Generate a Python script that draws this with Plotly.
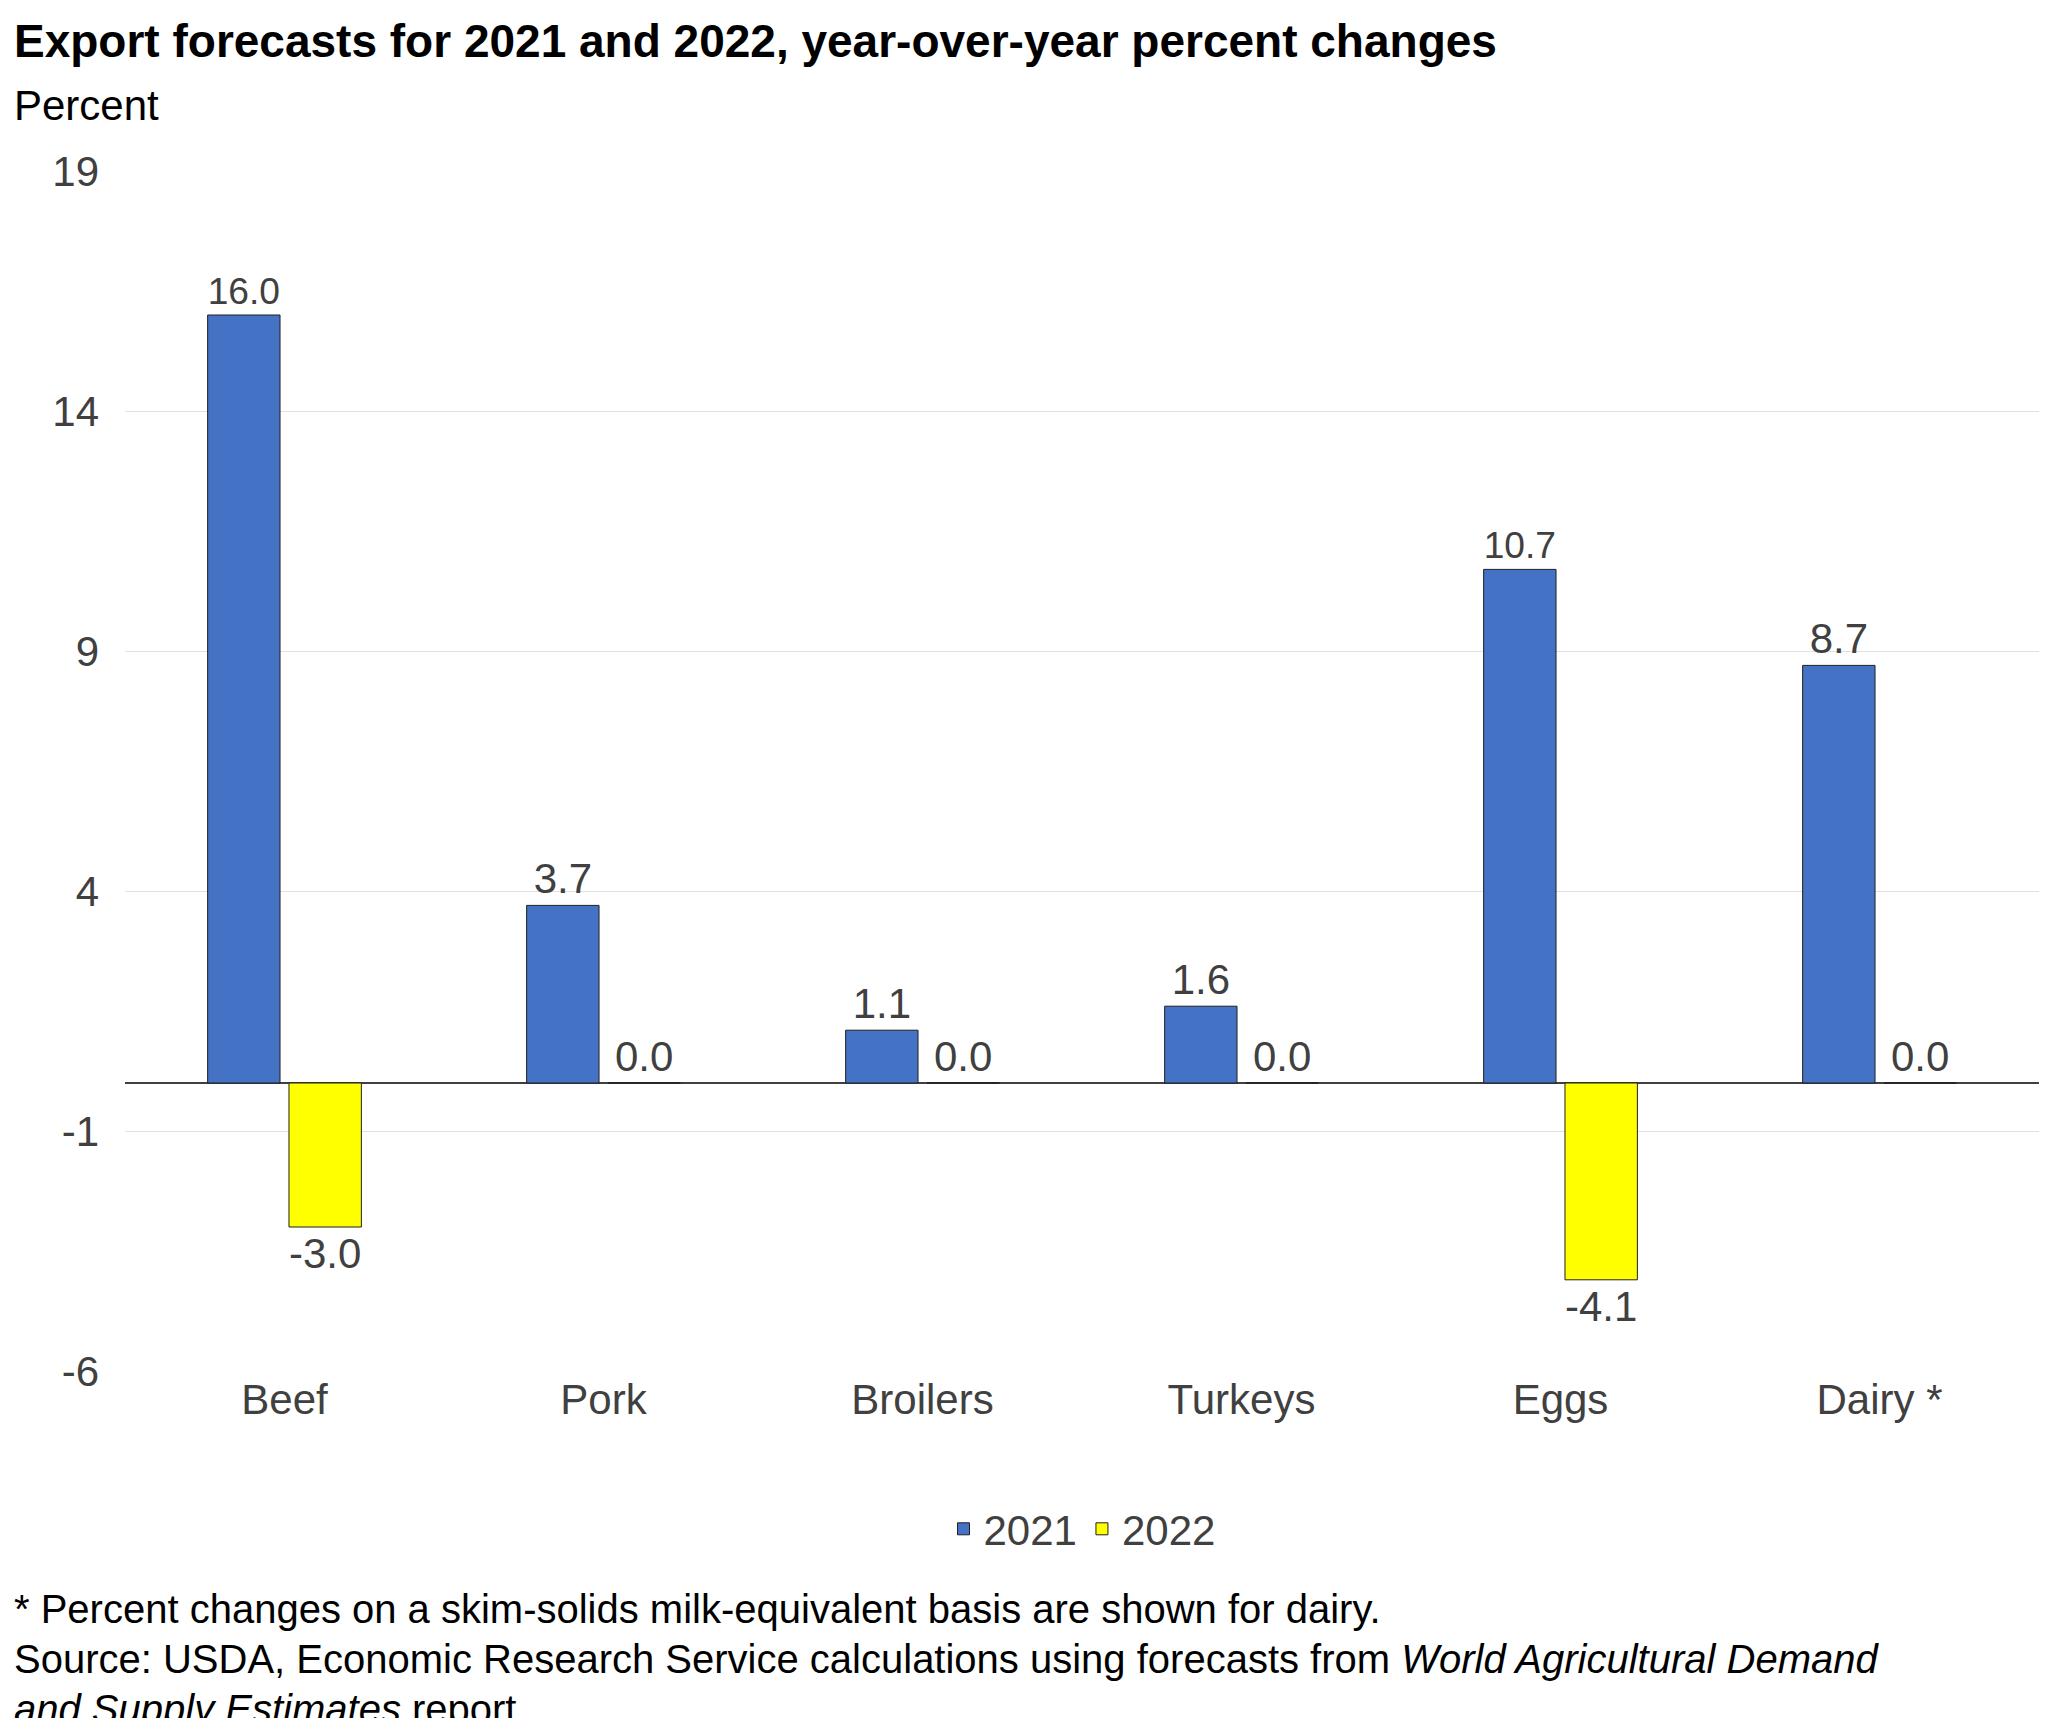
import plotly.graph_objects as go

categories = ["Beef", "Pork", "Broilers", "Turkeys", "Eggs", "Dairy *"]
values_2021 = [16.0, 3.7, 1.1, 1.6, 10.7, 8.7]
values_2022 = [-3.0, 0.0, 0.0, 0.0, -4.1, 0.0]
tick_vals = [-6, -1, 4, 9, 14, 19]
tick_text = ["-6", "-1", "4", "9", "14", "19"]

FONT = "Liberation Sans, Arial, sans-serif"
TXT = "#404040"

W, H = 2071, 1718
L, R, T, B = 117, 40, 163, 355
PW, PH = W - L - R, H - T - B


def px_y(y):
    # page pixel -> paper coordinate
    return (H - B - y) / PH


fig = go.Figure()
fig.add_trace(go.Bar(
    name="2021", x=categories, y=values_2021,
    marker=dict(color="#4472C4", line=dict(color="#1f1f1f", width=1)),
    text=[f"{v:.1f}" for v in values_2021], textposition="outside",
    textfont=dict(size=42, color=TXT), cliponaxis=False,
))
fig.add_trace(go.Bar(
    name="2022", x=categories, y=values_2022,
    marker=dict(color="#FFFF00", line=dict(color="#1f1f1f", width=1)),
    text=[f"{v:.1f}" for v in values_2022], textposition="outside",
    textfont=dict(size=42, color=TXT), cliponaxis=False,
))

x0 = -113 / PW
annotations = [
    dict(text="<b>Export forecasts for 2021 and 2022, year-over-year percent changes</b>",
         y=px_y(33), font=dict(size=46, color="black")),
    dict(text="Percent", y=px_y(97), font=dict(size=42, color="black")),
]
notes = [
    "* Percent changes on a skim-solids milk-equivalent basis are shown for dairy.",
    "Source: USDA, Economic Research Service calculations using forecasts from <i>World Agricultural Demand</i>",
    "<i>and Supply Estimates</i> report.",
]
for i, n in enumerate(notes):
    annotations.append(dict(text=n, y=px_y(1601 + i * 50), font=dict(size=40, color="black")))
for a in annotations:
    a.update(x=x0, xref="paper", yref="paper", showarrow=False,
             xanchor="left", yanchor="middle")

fig.update_layout(
    width=W, height=H,
    font=dict(family=FONT, size=42, color=TXT),
    plot_bgcolor="white", paper_bgcolor="white",
    margin=dict(l=L, r=R, t=T, b=B),
    barmode="group", bargap=0.49, bargroupgap=0.11,
    showlegend=True,
    legend=dict(orientation="h", x=0.5, xanchor="center", y=px_y(1521), yanchor="middle",
                font=dict(size=42, color=TXT), traceorder="normal"),
    xaxis=dict(showline=False, ticks="", tickfont=dict(size=42, color=TXT)),
    yaxis=dict(range=[-6, 19], tickvals=tick_vals, ticktext=tick_text,
               showgrid=True, gridcolor="#e0e0e0",
               zeroline=True, zerolinecolor="#404040", zerolinewidth=1.5,
               tickfont=dict(size=42, color=TXT), ticklabelstandoff=25),
    annotations=annotations,
)

fig.write_html("out.html")
